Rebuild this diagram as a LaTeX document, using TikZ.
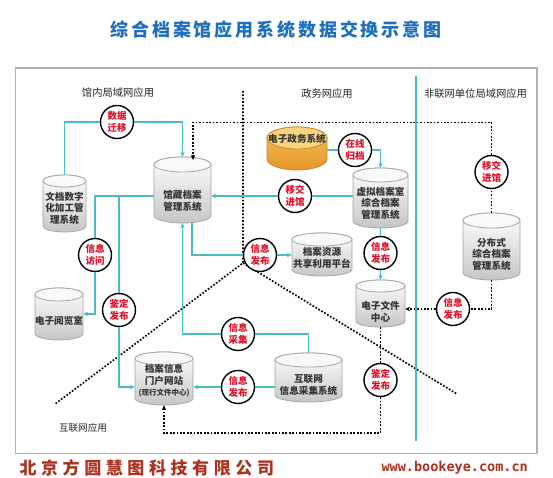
\documentclass[tikz,border=0pt]{standalone}
\usepackage{fontspec}
\setmainfont{Noto Sans CJK SC}
\newfontfamily\urlfont{DejaVu Sans Mono}
\usetikzlibrary{arrows.meta,calc}
\definecolor{tealc}{RGB}{75,188,196}
\definecolor{redtxt}{RGB}{225,15,40}
\definecolor{titleblue}{RGB}{30,110,190}
\definecolor{brick}{RGB}{170,50,30}
\definecolor{goldline}{RGB}{205,135,35}
\definecolor{goldtop}{RGB}{250,212,125}
\definecolor{goldhi}{RGB}{245,195,90}
\definecolor{goldlo}{RGB}{228,150,40}
\tikzset{
  tl/.style={draw=tealc, line width=1.8pt},
  tla/.style={tl, -{Stealth[length=5pt,width=4.5pt]}},
  dl/.style={draw=black, line width=1.7pt, dash pattern=on 1.7pt off 1.7pt},
  dla/.style={dl, -{Stealth[length=5pt,width=4.5pt]}},
  tag/.style={circle, draw=black, line width=1.4pt, fill=white, minimum size=33pt,
    inner sep=0pt, text=redtxt, font=\bfseries\fontsize{9.5}{11.5}\selectfont, align=center},
  cylgbody/.style={draw=gray!70, line width=0.8pt, top color=white, bottom color=gray!45},
  cylgtop/.style={draw=gray!70, line width=0.8pt, fill=gray!5},
  cylobody/.style={draw=goldline, line width=0.8pt, top color=goldhi, bottom color=goldlo},
  cylotop/.style={draw=goldline, line width=0.8pt, fill=goldtop},
  cylnode/.style={rectangle, inner sep=0pt},
  cyltext/.style={font=\bfseries\fontsize{9.6}{11.5}\selectfont, align=center, text=black!80},
  region/.style={font=\fontsize{10.3}{12}\selectfont, text=black!85},
}
% #1 name, #2 xl, #3 yt, #4 xr, #5 yb, #6 ry, #7 kind (cylg/cylo), #8 text y, #9 text
\newcommand\mycyl[9]{%
  \path[#7body] (#2,#3+#6) -- (#2,#5-#6)
     arc[start angle=180,end angle=0,x radius={(#4-#2)/2},y radius=#6]
     -- (#4,#3+#6)
     arc[start angle=0,end angle=-180,x radius={(#4-#2)/2},y radius=#6] -- cycle;
  \path[#7top] ({(#2+#4)/2},#3+#6) ellipse[x radius={(#4-#2)/2},y radius=#6];
  \node[cylnode, minimum width={(#4-#2)*1pt}, minimum height={(#5-#3)*1pt}]
     (#1) at ({(#2+#4)/2},{(#3+#5)/2}) {};
  \node[cyltext] at ({(#2+#4)/2},#8) {#9};
}
\begin{document}
\begin{tikzpicture}[x=1pt,y=-1pt]
\fill[white] (0,0) rectangle (553,478);
\useasboundingbox (0,0) rectangle (553,478);

% title
\node[font=\bfseries\fontsize{18}{20}\selectfont\addfontfeatures{LetterSpace=16}, text=titleblue]
  (title) at (276,30) {综合档案馆应用系统数据交换示意图};

% frame
\draw[gray!60, line width=1.4pt] (15.5,68) rectangle (537,453.5);

% region labels
\node[region] (lab1) at (118,93) {馆内局域网应用};
\node[region] (lab2) at (327,94) {政务网应用};
\node[region] (lab3) at (475.5,94) {非联网单位局域网应用};
\node[region, font=\fontsize{9.6}{12}\selectfont] (lab4) at (83,428) {互联网应用};

% region dividers
\coordinate (rtop) at (243,91);
\coordinate (apex) at (243,263);
\coordinate (rleft) at (55,404);
\coordinate (rright) at (457,394);
\draw[dl] (rtop) -- (apex) -- (rleft);
\draw[dl] (apex) -- (rright);
\coordinate (vt) at (416,76);
\coordinate (vb) at (416,441);
\draw[tl, line width=1.5pt] (vt) -- (vb);

% cylinders
\mycyl{wdsz}{43}{175}{86}{232}{6}{cylg}{208}{文档数字\\化加工管\\理系统}
\mycyl{gc}{154}{157}{211}{223}{7.5}{cylg}{201}{馆藏档案\\管理系统}
\mycyl{dzzw}{267}{127}{327}{170}{11}{cylo}{139}{电子政务系统}
\mycyl{xn}{353}{168}{408}{228}{7}{cylg}{203}{虚拟档案室\\综合档案\\管理系统}
\mycyl{fbs}{463}{213}{520}{280}{7.5}{cylg}{254}{分布式\\综合档案\\管理系统}
\mycyl{zy}{292}{233}{352}{276}{6.5}{cylg}{258}{档案资源\\共享利用平台}
\mycyl{dzwj}{356}{280}{405}{327}{6}{cylg}{312}{电子文件\\中心}
\mycyl{ylsh}{35}{288}{83}{340}{6.5}{cylg}{321}{电子阅览室}
\mycyl{mh}{135}{352}{193}{405}{6.5}{cylg}{381}{档案信息\\门户网站\\{\fontsize{7.5}{9}\selectfont (现行文件中心)}}
\mycyl{hlw}{275}{353}{342}{402}{7}{cylg}{385}{互联网\\信息采集系统}

% tags
\node[tag] (c1) at (117,122) {数据\\迁移};
\node[tag] (c2) at (355,150) {在线\\归档};
\node[tag] (c3) at (295,196) {移交\\进馆};
\node[tag] (c4) at (491.5,172) {移交\\进馆};
\node[tag] (c5) at (95,255) {信息\\访问};
\node[tag] (c6) at (260,255) {信息\\发布};
\node[tag] (c7) at (380.5,253) {信息\\发布};
\node[tag] (c8) at (119,310) {鉴定\\发布};
\node[tag] (c9) at (238,334) {信息\\采集};
\node[tag] (c10) at (238,387) {信息\\发布};
\node[tag] (c11) at (453,309) {信息\\发布};
\node[tag] (c12) at (380.5,380) {鉴定\\发布};

% teal connectors
\draw[tl] (wdsz.north) |- (c1.west);
\draw[tla] (c1.east) -| (gc.north);
\draw[tl] (xn.west |- c3) -- (c3.east);
\draw[tla] (c3.west) -- (gc.east |- c3);
\draw[tl] (dzzw.east |- c2) -- (c2.west);
\draw[tla] (c2.east) -| (xn.north);
\draw[tl] (xn.south) -- (c7.north);
\draw[tla] (c7.south) -- (dzwj.north);
\draw[tl] (gc.west |- c3) -| (c5.north);
\draw[tla] (c5.south) |- (ylsh.east);
\draw[tl] (gc.west |- c3) -| (c8.north);
\draw[tla] (c8.south) |- (mh.west |- c10);
\draw[tl] (hlw.north) |- (c9.east);
\draw[tla] (c9.west) -| (gc.south);
\draw[tl] ([xshift=9.5pt]gc.south) |- (c6.west);
\draw[tla] (c6.east) -- (zy.west |- c6);
\draw[tl] (hlw.west |- c10) -- (c10.east);
\draw[tla] (c10.west) -- (mh.east |- c10);

% dotted connectors
\coordinate (tturn) at (193,122.5);
\coordinate (tend) at (193,160);
\coordinate (bturn) at (164,433);
\draw[dl] (fbs.north) -- (c4.south);
\draw[dla] (c4.north) |- (tturn) -- (tend);
\draw[dl] (fbs.south) |- (c11.east);
\draw[dla] (c11.west) -- (dzwj.east |- c11);
\draw[dl] (dzwj.south) -- (c12.north);
\draw[dla] (c12.south) |- (bturn) -- (mh.south);

% footer
\node[anchor=west, text=brick, font=\bfseries\fontsize{17}{19}\selectfont\addfontfeatures{LetterSpace=27}]
  (company) at (16,468) {北京方圆慧图科技有限公司};
\node[anchor=west, text=brick, font=\urlfont\bfseries\fontsize{13.5}{15}\selectfont]
  (url) at (378,468) {www.bookeye.com.cn};
\end{tikzpicture}
\end{document}
